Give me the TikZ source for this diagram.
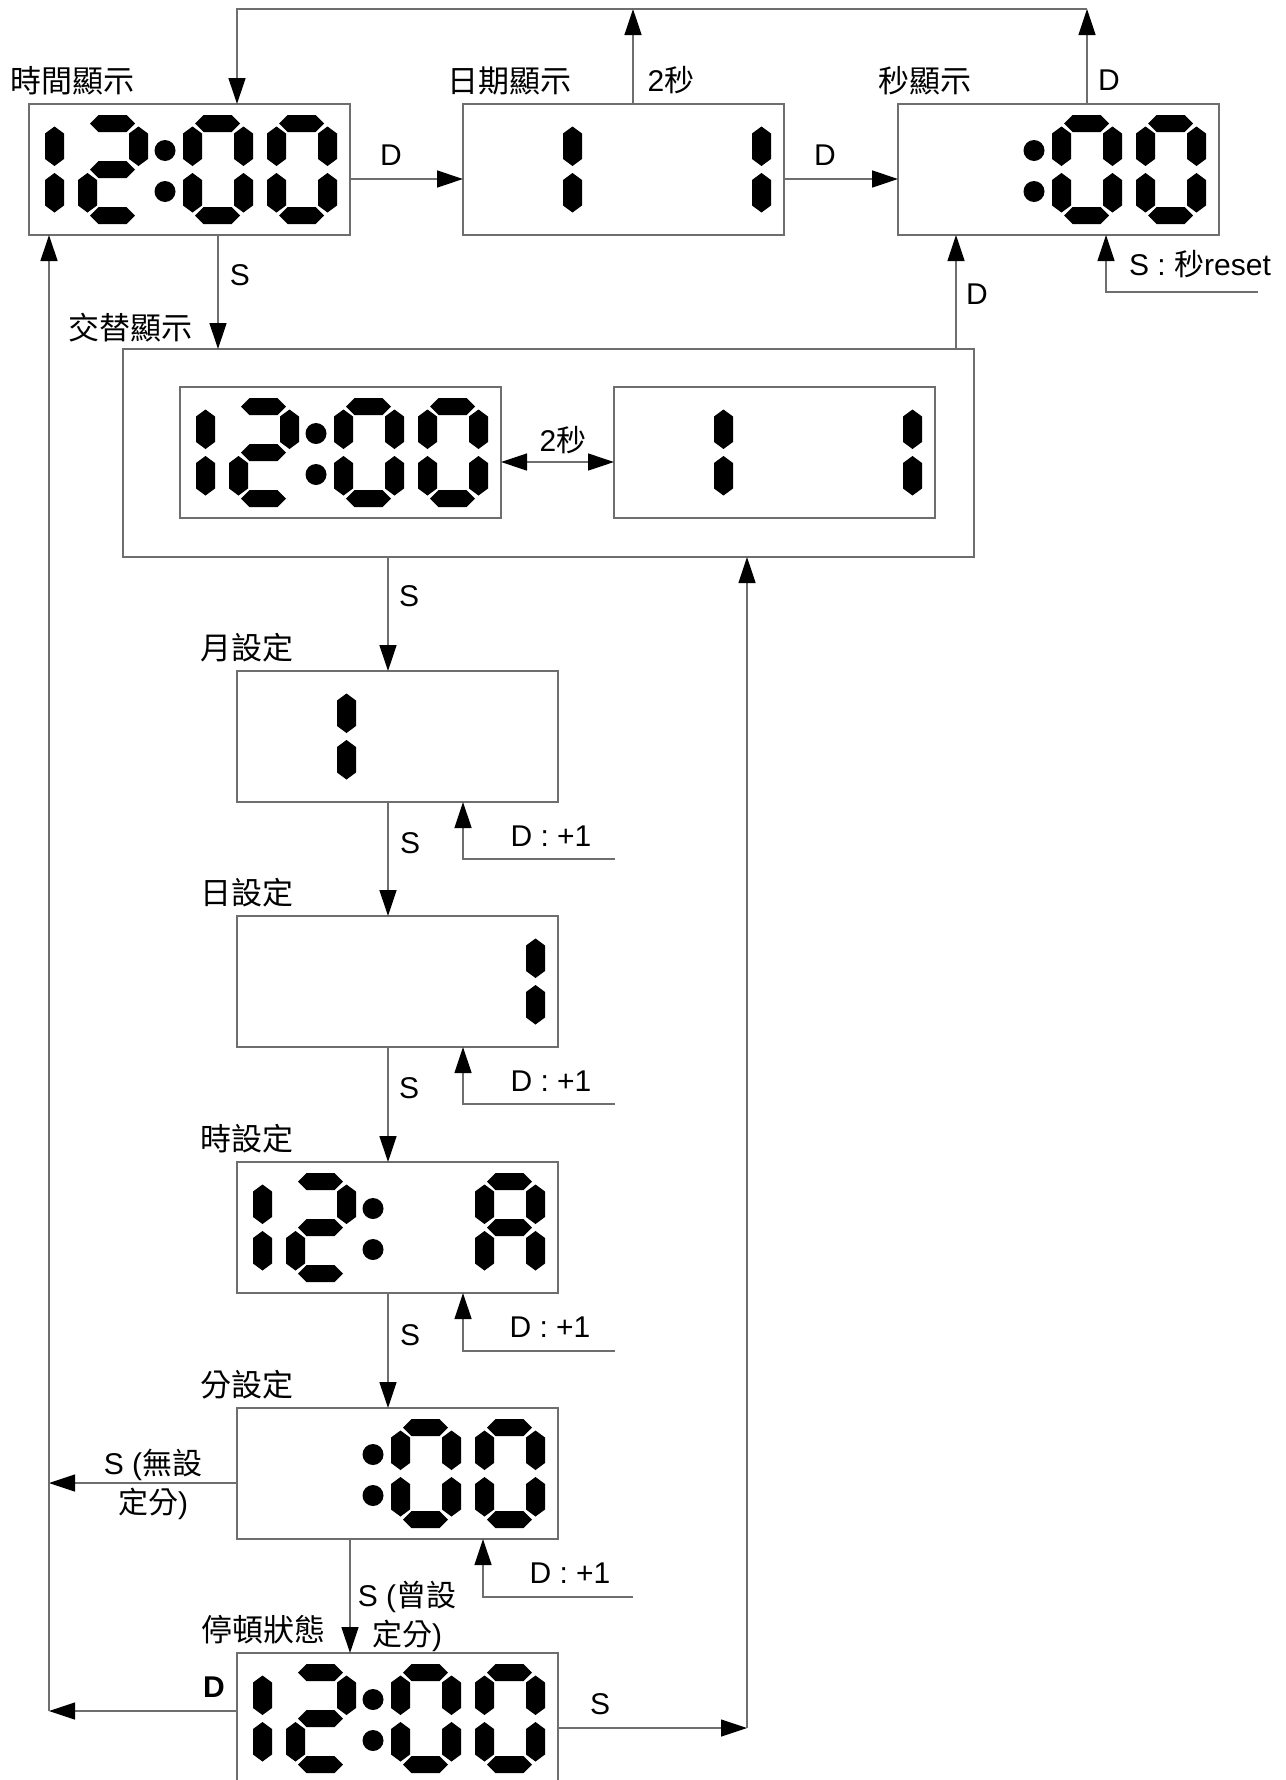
\documentclass[tikz,border=0pt]{standalone}
\usepackage{fontspec}
\setmainfont{Liberation Sans}
\newfontfamily\cjk{Noto Sans CJK TC}
\usetikzlibrary{arrows.meta}
\definecolor{ln}{RGB}{110,110,110}
\newcommand{\lcdsega}{\fill (12,8.5) -- (20.5,0) -- (48.5,0) -- (57,8.5) -- (48.5,17) -- (20.5,17) -- cycle;}
\newcommand{\lcdsegg}{\fill (12,54.5) -- (20.5,46) -- (48.5,46) -- (57,54.5) -- (48.5,63) -- (20.5,63) -- cycle;}
\newcommand{\lcdsegd}{\fill (12,100.5) -- (20.5,92) -- (48.5,92) -- (57,100.5) -- (48.5,109) -- (20.5,109) -- cycle;}
\newcommand{\lcdsegf}{\fill (9.5,11.5) -- (19,18.5) -- (19,44) -- (9.5,51) -- (0,44) -- (0,18.5) -- cycle;}
\newcommand{\lcdsege}{\fill (9.5,58) -- (19,65) -- (19,90.5) -- (9.5,97.5) -- (0,90.5) -- (0,65) -- cycle;}
\newcommand{\lcdsegb}{\fill (60.5,11.5) -- (70,18.5) -- (70,44) -- (60.5,51) -- (51,44) -- (51,18.5) -- cycle;}
\newcommand{\lcdsegc}{\fill (60.5,58) -- (70,65) -- (70,90.5) -- (60.5,97.5) -- (51,90.5) -- (51,65) -- cycle;}
\newcommand{\lcdDigit}[2]{\begin{scope}[shift={(#1,11)}]\foreach \s in #2 {\csname lcdseg\s\endcsname}\end{scope}}
\newcommand{\lcdColon}{\fill (136,46.5) circle (10.5); \fill (136,87.5) circle (10.5);}
\newcommand{\lcdZero}{a,b,c,d,e,f}
\newcommand{\lcdTwo}{a,b,g,e,d}
\newcommand{\lcdOne}{b,c}
\newcommand{\lcdA}{a,b,c,e,f,g}
\tikzset{
  lcd/.style={draw=ln, line width=1.3pt, minimum width=321pt, minimum height=131pt,
    inner sep=0pt, outer sep=0pt, anchor=north west},
  conn/.style={draw=ln, line width=1.3pt},
  arr/.style={conn, -{Triangle[length=26pt,width=17pt,color=black]}},
  arrs/.style={conn, {Triangle[length=26pt,width=17pt,color=black]}-{Triangle[length=26pt,width=17pt,color=black]}},
  lbl/.style={font=\fontsize{30}{36}\selectfont, inner sep=0pt},
  clbl/.style={font=\fontsize{31}{36}\selectfont\cjk, inner sep=0pt},
  mlbl/.style={font=\fontsize{30}{39}\selectfont, inner sep=0pt, align=center},
}
\begin{document}
\begin{tikzpicture}[x=1pt,y=-1pt]
\useasboundingbox (0,0) rectangle (1285,1780);
\clip (0,0) rectangle (1285,1780);
\fill[white] (0,0) rectangle (1285,1780);

% ---- display boxes ----
\node[lcd] (b1) at (29,104) {};
\node[lcd] (b2) at (463,104) {};
\node[lcd] (b3) at (898,104) {};
\node[lcd, minimum width=851pt, minimum height=208pt] (b4) at (123,349) {};
\node[lcd] (bA) at (180,387) {};
\node[lcd] (bB) at (614,387) {};
\node[lcd] (bm) at (237,671) {};
\node[lcd] (bd) at (237,916) {};
\node[lcd] (bh) at (237,1162) {};
\node[lcd] (bn) at (237,1408) {};
\node[lcd] (bp) at (237,1653) {};

% ---- digits ----
\begin{scope}[shift={(b1.north west)}]
  \lcdDigit{-35}{\lcdOne}\lcdDigit{49}{\lcdTwo}\lcdColon\lcdDigit{154}{\lcdZero}\lcdDigit{238}{\lcdZero}
\end{scope}
\begin{scope}[shift={(b2.north west)}]
  \lcdDigit{49}{\lcdOne}\lcdDigit{238}{\lcdOne}
\end{scope}
\begin{scope}[shift={(b3.north west)}]
  \lcdColon\lcdDigit{154}{\lcdZero}\lcdDigit{238}{\lcdZero}
\end{scope}
\begin{scope}[shift={(bA.north west)}]
  \lcdDigit{-35}{\lcdOne}\lcdDigit{49}{\lcdTwo}\lcdColon\lcdDigit{154}{\lcdZero}\lcdDigit{238}{\lcdZero}
\end{scope}
\begin{scope}[shift={(bB.north west)}]
  \lcdDigit{49}{\lcdOne}\lcdDigit{238}{\lcdOne}
\end{scope}
\begin{scope}[shift={(bm.north west)}]
  \lcdDigit{49}{\lcdOne}
\end{scope}
\begin{scope}[shift={(bd.north west)}]
  \lcdDigit{238}{\lcdOne}
\end{scope}
\begin{scope}[shift={(bh.north west)}]
  \lcdDigit{-35}{\lcdOne}\lcdDigit{49}{\lcdTwo}\lcdColon\lcdDigit{238}{\lcdA}
\end{scope}
\begin{scope}[shift={(bn.north west)}]
  \lcdColon\lcdDigit{154}{\lcdZero}\lcdDigit{238}{\lcdZero}
\end{scope}
\begin{scope}[shift={(bp.north west)}]
  \lcdDigit{-35}{\lcdOne}\lcdDigit{49}{\lcdTwo}\lcdColon\lcdDigit{154}{\lcdZero}\lcdDigit{238}{\lcdZero}
\end{scope}

% ---- titles ----
\node[clbl] (l1) at (72,81) {時間顯示};
\node[clbl] (l2) at (509,81) {日期顯示};
\node[clbl] (l3) at (925,81) {秒顯示};
\node[clbl] (l4) at (130,328) {交替顯示};
\node[clbl] (l5) at (247,648) {月設定};
\node[clbl] (l6) at (247,893) {日設定};
\node[clbl] (l7) at (247,1139) {時設定};
\node[clbl] (l8) at (247,1385) {分設定};
\node[clbl] (l9) at (263,1630) {停頓狀態};

% ---- coordinates ----
\coordinate (t1) at (237,9);
\coordinate (t2) at (633,9);
\coordinate (t3) at (1087,9);
\coordinate (x1) at (218,0);
\coordinate (x2) at (956,0);
\coordinate (r1) at (1258,292);
\coordinate (r1c) at (1106,292);
\coordinate (xc) at (388,0);
\coordinate (xf) at (463,0);
\coordinate (xf2) at (483,0);
\coordinate (fm) at (615,859);
\coordinate (fd) at (615,1104);
\coordinate (fh) at (615,1351);
\coordinate (fn) at (633,1597);
\coordinate (xl) at (49,0);
\coordinate (xs) at (350,0);
\coordinate (xr) at (747,0);
\coordinate (nl) at ([yshift=-9.5pt]bn.west);
\coordinate (pl) at ([yshift=7.5pt]bp.west);
\coordinate (pr) at ([yshift=-9.5pt]bp.east);

% ---- connectors top ----
\draw[arr] ([yshift=-9.5pt]b1.east) -- ([yshift=-9.5pt]b2.west);
\draw[arr] ([yshift=-9.5pt]b2.east) -- ([yshift=-9.5pt]b3.west);
\draw[arr] (b2.north -| t2) -- (t2);
\draw[arr] (b3.north -| t3) -- (t3);
\draw[arr] (t3) -- (t1) -- (b1.north -| t1);
\draw[arr] (b1.south -| x1) -- (b4.north -| x1);
\draw[arr] (b4.north -| x2) -- (b3.south -| x2);
\draw[arr] (r1) -- (r1c) -- (b3.south -| r1c);
\draw[arrs] ([yshift=-9.5pt]bA.east) -- ([yshift=-9.5pt]bB.west);

% ---- column ----
\draw[arr] (b4.south -| xc) -- (bm.north -| xc);
\draw[arr] (bm.south -| xc) -- (bd.north -| xc);
\draw[arr] (bd.south -| xc) -- (bh.north -| xc);
\draw[arr] (bh.south -| xc) -- (bn.north -| xc);
\draw[arr] (fm) -- (fm -| xf) -- (bm.south -| xf);
\draw[arr] (fd) -- (fd -| xf) -- (bd.south -| xf);
\draw[arr] (fh) -- (fh -| xf) -- (bh.south -| xf);
\draw[arr] (fn) -- (fn -| xf2) -- (bn.south -| xf2);
\draw[arr] (bn.south -| xs) -- (bp.north -| xs);
\draw[arr] (nl) -- (nl -| xl);
\draw[arr] (pl) -- (pl -| xl);
\draw[arr] (pl -| xl) -- (b1.south -| xl);
\draw[arr] (pr) -- (pr -| xr);
\draw[arr] (pr -| xr) -- (b4.south -| xr);

% ---- connector labels ----
\node[lbl] (dA) at (391,155) {D};
\node[lbl] (dB) at (825,155) {D};
\node[lbl] (s2a) at (671,80) {2{\cjk 秒}};
\node[lbl] (dC) at (1109,80) {D};
\node[lbl] (sA) at (240,275) {S};
\node[lbl] (dD) at (977,294) {D};
\node[lbl] (srs) at (1200,264) {S : {\cjk 秒}reset};
\node[lbl] (s2b) at (563,440) {2{\cjk 秒}};
\node[lbl] (sB) at (409,596) {S};
\node[lbl] (sC) at (410,843) {S};
\node[lbl] (sD) at (409,1088) {S};
\node[lbl] (sE) at (410,1335) {S};
\node[lbl] (p1) at (551,836) {D : +1};
\node[lbl] (p2) at (551,1081) {D : +1};
\node[lbl] (p3) at (550,1327) {D : +1};
\node[lbl] (p4) at (570,1573) {D : +1};
\node[mlbl] (nset) at (153,1484) {S ({\cjk 無設}\\{\cjk 定分})};
\node[mlbl] (yset) at (407,1616) {S ({\cjk 曾設}\\{\cjk 定分})};
\node[lbl, font=\fontsize{30}{36}\selectfont\bfseries] (dE) at (214,1687) {D};
\node[lbl] (sF) at (600,1704) {S};
\end{tikzpicture}
\end{document}
